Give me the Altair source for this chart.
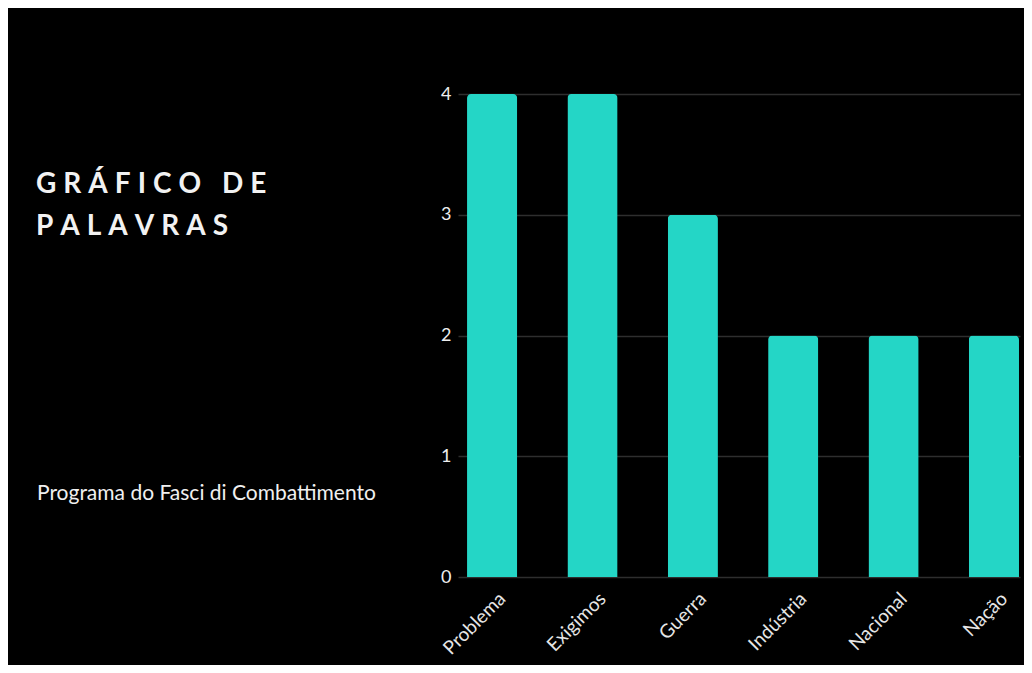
import altair as alt
import pandas as pd

words = ["Problema", "Exigimos", "Guerra", "Indústria", "Nacional", "Nação"]
counts = [4, 4, 3, 2, 2, 2]
y_ticks = [0, 1, 2, 3, 4]
title_lines = ["GRÁFICO DE", "PALAVRAS"]
subtitle_text = "Programa do Fasci di Combattimento"

LETTER_SP = "\u2005"
WORD_SP = "\u2005 \u2005"


def spaced(s):
    return WORD_SP.join(LETTER_SP.join(w) for w in s.split(" "))


df = pd.DataFrame({"palavra": words, "n": counts})

bars = alt.Chart(df).mark_bar(
    color="#24d6c6", cornerRadiusTopLeft=4, cornerRadiusTopRight=4
).encode(
    x=alt.X(
        "palavra:N",
        sort=words,
        title=None,
        scale=alt.Scale(paddingInner=0.5, paddingOuter=0.05, align=0.9),
        axis=alt.Axis(
            labelAngle=-45,
            labelFont="Lato",
            labelFontSize=19,
            labelColor="#e6e6e6",
            labelPadding=12,
            labelOffset=4,
            ticks=False,
            domain=False,
            grid=False,
        ),
    ),
    y=alt.Y(
        "n:Q",
        title=None,
        scale=alt.Scale(domain=[0, 4]),
        axis=alt.Axis(
            values=y_ticks,
            format="d",
            labelFont="Lato",
            labelFontSize=18,
            labelColor="#eeeeee",
            labelPadding=7,
            gridColor="#2e2e2e",
            gridWidth=1.5,
            ticks=False,
            domain=False,
        ),
    ),
)

title_style = dict(align="left", baseline="alphabetic", font="Lato", fontSize=28,
                   fontWeight="bold", color="#f2f2f2")

t1 = alt.Chart(pd.DataFrame({"t": [spaced(title_lines[0])]})).mark_text(
    **title_style
).encode(x=alt.value(-422), y=alt.value(99), text="t:N")

t2 = alt.Chart(pd.DataFrame({"t": [spaced(title_lines[1])]})).mark_text(
    **title_style
).encode(x=alt.value(-422), y=alt.value(141), text="t:N")

t3 = alt.Chart(pd.DataFrame({"t": [subtitle_text]})).mark_text(
    align="left", baseline="alphabetic", font="Lato", fontSize=21,
    color="#f0f0f0"
).encode(x=alt.value(-421), y=alt.value(406), text="t:N")

chart = alt.layer(bars, t1, t2, t3).properties(
    width=562,
    height=483,
    background="#000000",
    padding={"left": 450, "top": 86, "right": 4, "bottom": 88},
    autosize="none",
).configure_view(stroke=None)

chart.save("out.html", embed_options={"renderer": "svg", "actions": False})
